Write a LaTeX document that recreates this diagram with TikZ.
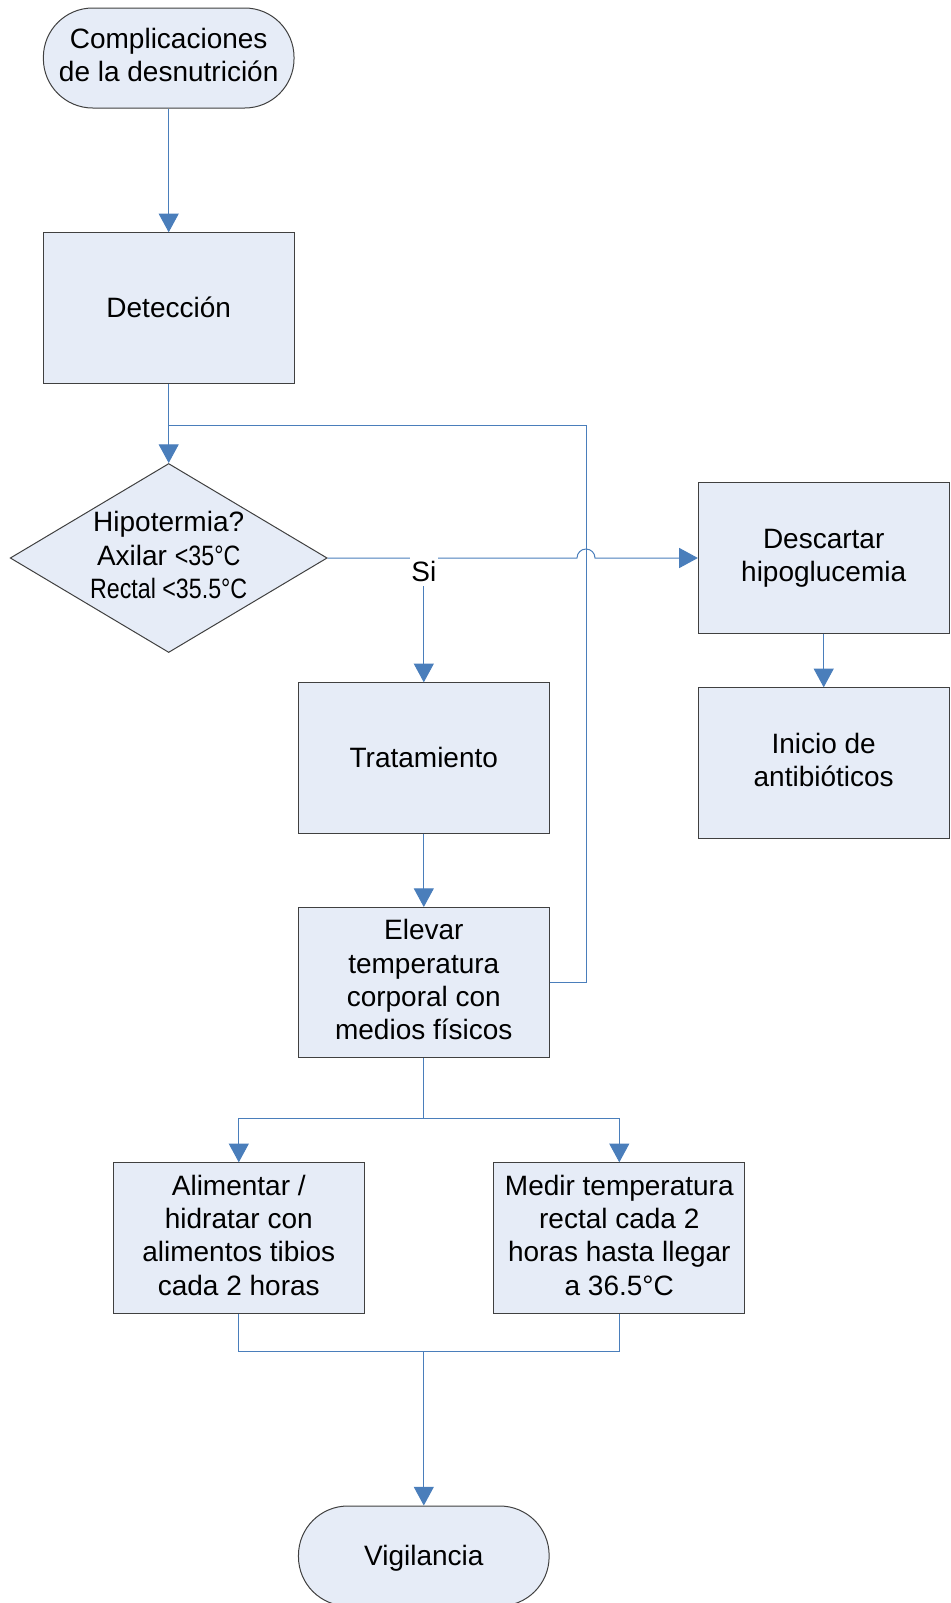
\documentclass[tikz,border=0pt]{standalone}
\usepackage{fontspec}
\setmainfont{Liberation Sans}
\newfontfamily\narrowsans[FakeStretch=0.83]{Liberation Sans}
\usetikzlibrary{shapes.geometric,arrows.meta,calc}
\definecolor{boxfill}{RGB}{230,236,247}
\definecolor{linkblue}{RGB}{74,126,187}
\definecolor{boxline}{RGB}{64,64,64}
\newcommand\linestrut{\rule[-4.45pt]{0pt}{23.45pt}}
\tikzset{every picture/.style={line width=0.75pt}}

\begin{document}
\begin{tikzpicture}[x=0.75pt,y=0.75pt,yscale=-1,xscale=1,
    txt/.style={font=\fontsize{21}{25}\selectfont, align=center},
    boxtxt/.style={txt, execute at begin node=\linestrut, execute at end node=\linestrut},
    procbox/.style={boxtxt, draw=boxline, fill=boxfill, minimum width=188pt, minimum height=112.8pt, inner sep=1pt},
    termbox/.style={boxtxt, draw=boxline, fill=boxfill, rounded corners=37pt, minimum width=188pt, minimum height=75pt},
    decision/.style={diamond, draw=boxline, fill=boxfill, minimum width=237.75pt, minimum height=141.75pt, inner sep=0pt},
    link/.style={draw=linkblue},
    arrow/.style={link, -{Triangle[length=14pt,width=15pt]}}]
    \useasboundingbox (0,0) rectangle (950,1603);
    %Shape: Terminator
    \node[termbox] (start) at (168.7,58) {Complicaciones\\de la desnutrición};
    %Shape: Rectangle
    \node[procbox] (det) at (168.7,308) {Detección};
    %Shape: Diamond
    \node[decision] (hipo) at (168.7,558) {};
    % Text Node
    \node[boxtxt] (hipotxt) at (hipo) {Hipotermia?\\Axilar {\narrowsans <35°C}\\{\narrowsans Rectal <35.5°C}};
    %Shape: Rectangle
    \node[procbox] (trat) at (423.8,758) {Tratamiento};
    \node[procbox] (elev) at (423.8,982.7) {Elevar\\temperatura\\corporal con\\medios físicos};
    \node[procbox] (desc) at (823.7,558) {Descartar\\hipoglucemia};
    \node[procbox] (ini) at (823.7,763) {Inicio de\\antibióticos};
    \node[procbox] (alim) at (238.8,1238) {Alimentar /\\hidratar con\\alimentos tibios\\cada 2 horas};
    \node[procbox] (medir) at (619.3,1238) {Medir temperatura\\rectal cada 2\\horas hasta llegar\\a 36.5°C};
    %Shape: Terminator
    \node[termbox] (vig) at (423.8,1556) {Vigilancia};
    % Coordinates for bends
    \coordinate (loopturn) at (586,425);
    \coordinate (loopjoin) at (168.7,425);
    \coordinate (split) at (423.8,1118.7);
    \coordinate (merge) at (423.8,1351);
    %Straight Lines
    \draw[arrow] (start) -- (det);
    \draw[arrow] (det) -- (hipo.north);
    \draw[link] (elev.east) -| (loopturn) -- (loopjoin);
    \draw[arrow] (hipo.east) -- ($(loopturn |- hipo.east)+(-9,0)$) arc[start angle=180, end angle=360, radius=6.75pt] -- (desc.west);
    % Text Node
    \node[txt, fill=white, inner xsep=1pt, inner ysep=0pt, minimum height=22pt] (si) at (423.8,571) {Si};
    \draw[arrow] (si) -- (trat);
    \draw[arrow] (trat) -- (elev);
    \draw[arrow] (desc) -- (ini);
    \draw[link] (elev) -- (split);
    \draw[arrow] (split) -| (alim.north);
    \draw[arrow] (split) -| (medir.north);
    \draw[link] (alim.south) |- (merge) -| (medir.south);
    \draw[arrow] (merge) -- (vig);
\end{tikzpicture}
\end{document}
